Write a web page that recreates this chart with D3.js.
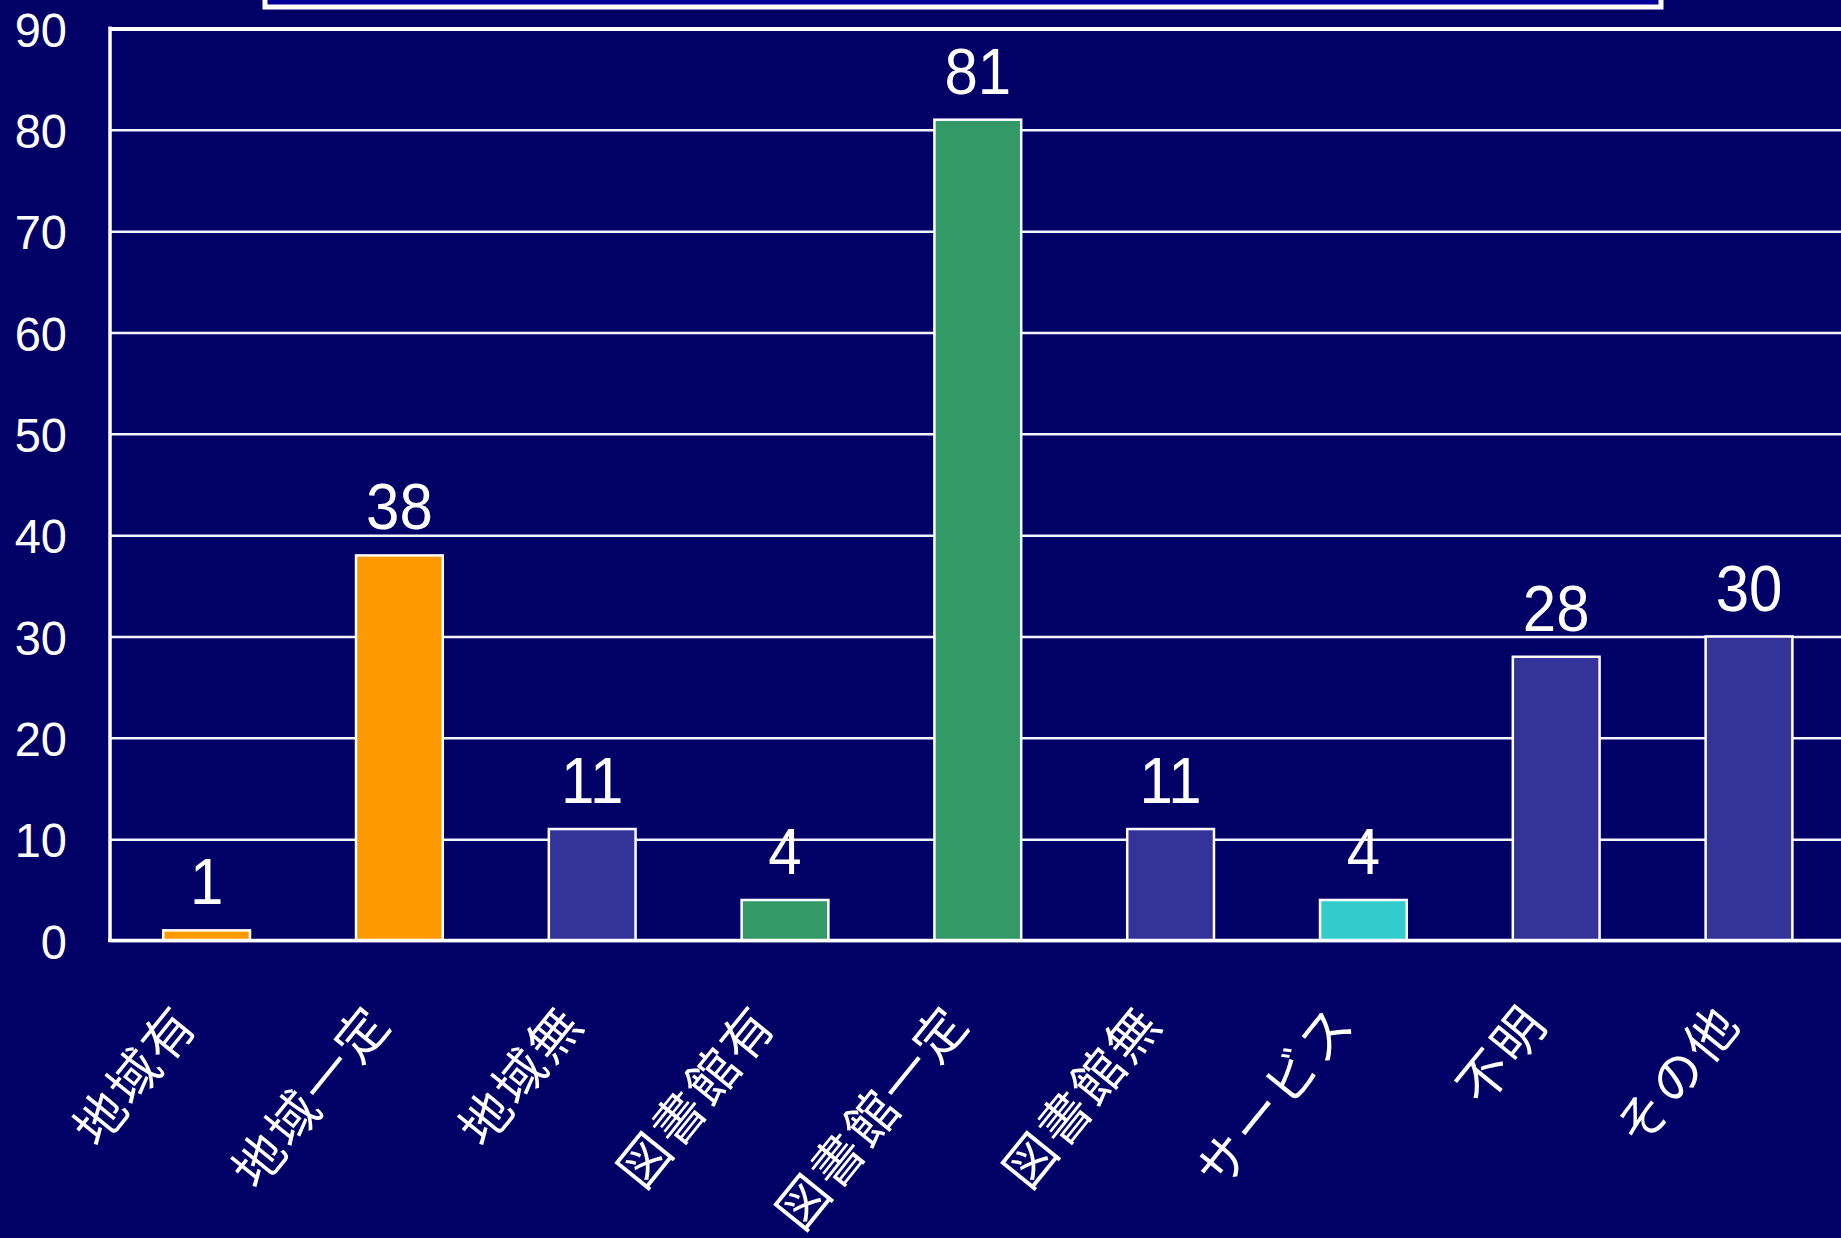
<!DOCTYPE html>
<html><head><meta charset="utf-8">
<script src="https://cdn.jsdelivr.net/npm/d3@7"></script>
<style>
html,body{margin:0;padding:0;background:#000066;overflow:hidden;}
svg{display:block;}
</style></head>
<body>
<svg id="chart" width="1841" height="1238"></svg>
<script>
const categories = ["地域有","地域一定","地域無","図書館有","図書館一定","図書館無","サービス","不明","その他"];
const values = [1,38,11,4,81,11,4,28,30];
const barColors = ["#FF9900","#FF9900","#333399","#339966","#339966","#333399","#33CCCC","#333399","#333399"];
const yTicks = [0,10,20,30,40,50,60,70,80,90];

const svg = d3.select("#chart");
const W = 1841, H = 1238;
const latin = "'Liberation Sans', Arial, sans-serif";
const cjk = "'Noto Sans CJK JP', 'Noto Sans CJK SC', sans-serif";

svg.append("rect").attr("width", W).attr("height", H).attr("fill", "#000066");

// title box (cut off at top)
svg.append("rect").attr("x", 265).attr("y", -40).attr("width", 1396).attr("height", 47)
  .attr("fill", "#000099").attr("stroke", "#ffffff").attr("stroke-width", 5);

const x = d3.scaleBand().domain(categories).range([110.2, 110.2 + 9 * 192.8])
  .paddingInner(0.55).paddingOuter(0.275);
const y = d3.scaleLinear().domain([0, 90]).range([940.5, 28.5]);

// gridlines
const grid = svg.append("g").attr("transform", "translate(110,0)")
  .call(d3.axisLeft(y).tickValues(yTicks).tickSize(-(W - 110)).tickFormat(""));
grid.select(".domain").remove();
grid.selectAll(".tick line").attr("stroke", "#f4f4ff").attr("stroke-width", 2.5);
grid.selectAll(".tick").filter(d => d === 90).select("line").attr("stroke", "#ffffff").attr("stroke-width", 4);

// bars
svg.append("g").selectAll("rect").data(values).join("rect")
  .attr("x", (d, i) => x(categories[i]))
  .attr("y", d => y(d))
  .attr("width", x.bandwidth())
  .attr("height", d => y(0) - y(d))
  .attr("fill", (d, i) => barColors[i])
  .attr("stroke", "#ffffff").attr("stroke-width", 2.5);

// axes lines
svg.append("line").attr("x1", 110).attr("x2", 110).attr("y1", y(90) - 2).attr("y2", y(0) + 1.5)
  .attr("stroke", "#ffffff").attr("stroke-width", 3.5);
svg.append("line").attr("x1", 108).attr("x2", W).attr("y1", y(0)).attr("y2", y(0))
  .attr("stroke", "#ffffff").attr("stroke-width", 3.5);

// y tick labels
svg.append("g").selectAll("text").data(yTicks).join("text")
  .attr("transform", d => `translate(67,${y(d) + 18}) scale(1,1.04)`)
  .attr("text-anchor", "end")
  .attr("font-family", latin).attr("font-size", 47).attr("fill", "#ffffff")
  .text(d => d);

// value labels
svg.append("g").selectAll("text").data(values).join("text")
  .attr("transform", (d, i) => `translate(${x(categories[i]) + x.bandwidth() / 2},${y(d) - 26}) scale(1,1.07)`)
  .attr("text-anchor", "middle")
  .attr("font-family", latin).attr("font-size", 60).attr("fill", "#ffffff")
  .text(d => d);

// x labels
svg.append("g").selectAll("text").data(categories).join("text")
  .attr("transform", d => `translate(${x(d) + x.bandwidth() / 2 - 6},1024) rotate(-51)`)
  .attr("text-anchor", "end")
  .attr("letter-spacing", 3)
  .attr("font-family", cjk).attr("font-size", 51).attr("fill", "#ffffff")
  .text(d => d);
</script>
</body></html>
